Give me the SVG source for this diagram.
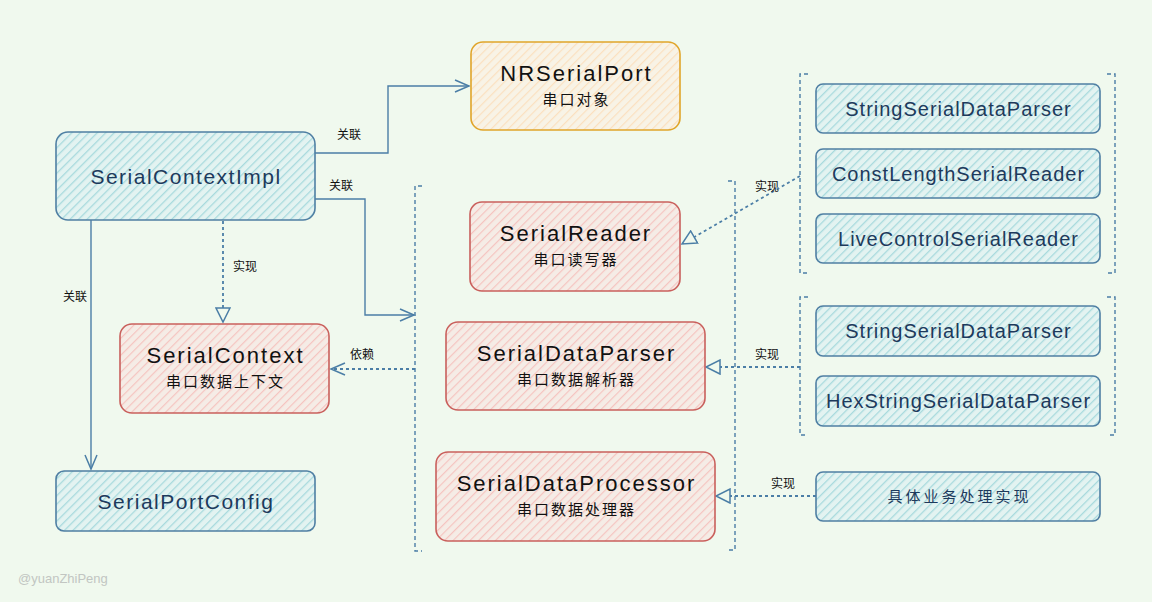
<svg xmlns="http://www.w3.org/2000/svg" width="1152" height="602" viewBox="0 0 1152 602">
<defs>
<pattern id="hb" width="6" height="6" patternUnits="userSpaceOnUse" patternTransform="rotate(45)">
<rect width="6" height="6" fill="#e3f3f1"/>
<line x1="0" y1="0" x2="0" y2="6" stroke="#a8dadd" stroke-width="2.6"/>
</pattern>
<pattern id="hr" width="6" height="6" patternUnits="userSpaceOnUse" patternTransform="rotate(45)">
<rect width="6" height="6" fill="#f5ece6"/>
<line x1="0" y1="0" x2="0" y2="6" stroke="#f5c4c0" stroke-width="2.4"/>
</pattern>
<pattern id="ho" width="6" height="6" patternUnits="userSpaceOnUse" patternTransform="rotate(45)">
<rect width="6" height="6" fill="#f8f3e6"/>
<line x1="0" y1="0" x2="0" y2="6" stroke="#fbe0bf" stroke-width="2.4"/>
</pattern>
<marker id="open" markerWidth="18" markerHeight="14" refX="15" refY="7" orient="auto" markerUnits="userSpaceOnUse">
<path d="M1,1 L15,7 L1,13" fill="none" stroke="#4b7ea6" stroke-width="1.5"/>
</marker>
<marker id="tri" markerWidth="18" markerHeight="16" refX="15" refY="8" orient="auto" markerUnits="userSpaceOnUse">
<path d="M1,1 L15,8 L1,15 Z" fill="#f0f9ee" stroke="#4b7ea6" stroke-width="1.5"/>
</marker>
</defs>
<style>
.bg{fill:#f0f9ee}
.nb{fill:url(#hb);stroke:#4f7fa3;stroke-width:1.6}
.nr{fill:url(#hr);stroke:#c9605c;stroke-width:1.6}
.no{fill:url(#ho);stroke:#e0a52a;stroke-width:1.6}
.tb{font-family:"Liberation Sans","Noto Sans CJK SC",sans-serif;font-size:21px;letter-spacing:1.5px;fill:#1d3a5c;text-anchor:middle}
.ts{font-family:"Liberation Sans","Noto Sans CJK SC",sans-serif;font-size:20px;letter-spacing:1px;fill:#1d3a5c;text-anchor:middle}
.tk{font-family:"Liberation Sans","Noto Sans CJK SC",sans-serif;font-size:22px;letter-spacing:2px;fill:#111;text-anchor:middle}
.tc{font-family:"Noto Sans CJK SC",sans-serif;font-size:15px;letter-spacing:2px;fill:#111;text-anchor:middle}
.tcb{font-family:"Noto Sans CJK SC",sans-serif;font-size:15px;letter-spacing:3px;fill:#1d3a5c;text-anchor:middle}
.lbl{font-family:"Noto Sans CJK SC",sans-serif;font-size:12px;fill:#111;text-anchor:middle}
.ln{fill:none;stroke:#4b7ea6;stroke-width:1.4}
.dl{fill:none;stroke:#4b7ea6;stroke-width:1.8;stroke-dasharray:3 3}
.br{fill:none;stroke:#4b7ea6;stroke-width:1.4;stroke-dasharray:4 3}
</style>
<rect class="bg" x="0" y="0" width="1152" height="602"/>

<g id="brackets">
<path class="br" d="M422,186 L415,186 L415,551 L422,551"/>
<path class="br" d="M728,181 L735,181 L735,550 L728,550"/>
<path class="br" d="M808,74 L800,74 L800,273 L808,273"/>
<path class="br" d="M1107,74 L1115,74 L1115,273 L1107,273"/>
<path class="br" d="M808,297 L800,297 L800,435 L808,435"/>
<path class="br" d="M1107,297 L1115,297 L1115,435 L1107,435"/>
</g>

<g id="connectors">
<path class="ln" d="M315,153 L388,153 L388,86 L469,86" marker-end="url(#open)"/>
<text class="lbl" x="349" y="139">关联</text>
<path class="ln" d="M315,199 L365,199 L365,315 L414,315" marker-end="url(#open)"/>
<text class="lbl" x="341" y="190">关联</text>
<path class="ln" d="M91,220 L91,469" marker-end="url(#open)"/>
<text class="lbl" x="75" y="301">关联</text>
<path class="dl" d="M223,221 L223,322" marker-end="url(#tri)"/>
<text class="lbl" x="245" y="271">实现</text>
<path class="dl" d="M415,369 L331,369" marker-end="url(#open)"/>
<text class="lbl" x="362" y="359">依赖</text>
<path class="dl" d="M800,176 L682,244" marker-end="url(#tri)"/>
<text class="lbl" x="767" y="191">实现</text>
<path class="dl" d="M800,367 L706,367" marker-end="url(#tri)"/>
<text class="lbl" x="767" y="359">实现</text>
<path class="dl" d="M816,496 L716,496" marker-end="url(#tri)"/>
<text class="lbl" x="783" y="488">实现</text>
</g>

<g id="SerialContextImpl">
<rect class="nb" x="56" y="132" width="259" height="88" rx="12"/>
<text class="tb" x="186" y="184">SerialContextImpl</text>
</g>
<g id="NRSerialPort">
<rect class="no" x="471" y="42" width="209" height="88" rx="12"/>
<text class="tk" x="576.5" y="81">NRSerialPort</text>
<text class="tc" x="576.5" y="105">串口对象</text>
</g>
<g id="SerialReader">
<rect class="nr" x="470" y="202" width="210" height="89" rx="12"/>
<text class="tk" x="576" y="241">SerialReader</text>
<text class="tc" x="576" y="265">串口读写器</text>
</g>
<g id="SerialContext">
<rect class="nr" x="120" y="324" width="209" height="89" rx="12"/>
<text class="tk" x="225.5" y="363">SerialContext</text>
<text class="tc" x="225.5" y="387">串口数据上下文</text>
</g>
<g id="SerialDataParser">
<rect class="nr" x="446" y="322" width="259" height="88" rx="12"/>
<text class="tk" x="576.5" y="361">SerialDataParser</text>
<text class="tc" x="576.5" y="385">串口数据解析器</text>
</g>
<g id="SerialDataProcessor">
<rect class="nr" x="436" y="452" width="279" height="89" rx="12"/>
<text class="tk" x="576.5" y="491">SerialDataProcessor</text>
<text class="tc" x="576.5" y="515">串口数据处理器</text>
</g>
<g id="SerialPortConfig">
<rect class="nb" x="56" y="471" width="259" height="60" rx="8"/>
<text class="tb" x="186" y="509">SerialPortConfig</text>
</g>
<g id="StringSerialDataParser1">
<rect class="nb" x="816" y="84" width="284" height="49" rx="7"/>
<text class="ts" x="958.5" y="116">StringSerialDataParser</text>
</g>
<g id="ConstLengthSerialReader">
<rect class="nb" x="816" y="149" width="284" height="49" rx="7"/>
<text class="ts" x="958.5" y="181">ConstLengthSerialReader</text>
</g>
<g id="LiveControlSerialReader">
<rect class="nb" x="816" y="214" width="284" height="49" rx="7"/>
<text class="ts" x="958.5" y="246">LiveControlSerialReader</text>
</g>
<g id="StringSerialDataParser2">
<rect class="nb" x="816" y="306" width="284" height="50" rx="7"/>
<text class="ts" x="958.5" y="338">StringSerialDataParser</text>
</g>
<g id="HexStringSerialDataParser">
<rect class="nb" x="816" y="376" width="284" height="50" rx="7"/>
<text class="ts" x="958.5" y="408">HexStringSerialDataParser</text>
</g>
<g id="BizImpl">
<rect class="nb" x="816" y="472" width="284" height="49" rx="7"/>
<text class="tcb" x="959.5" y="502">具体业务处理实现</text>
</g>
<text x="18" y="583" font-family="Liberation Sans, sans-serif" font-size="13" fill="#c2c6c2">@yuanZhiPeng</text>
</svg>
